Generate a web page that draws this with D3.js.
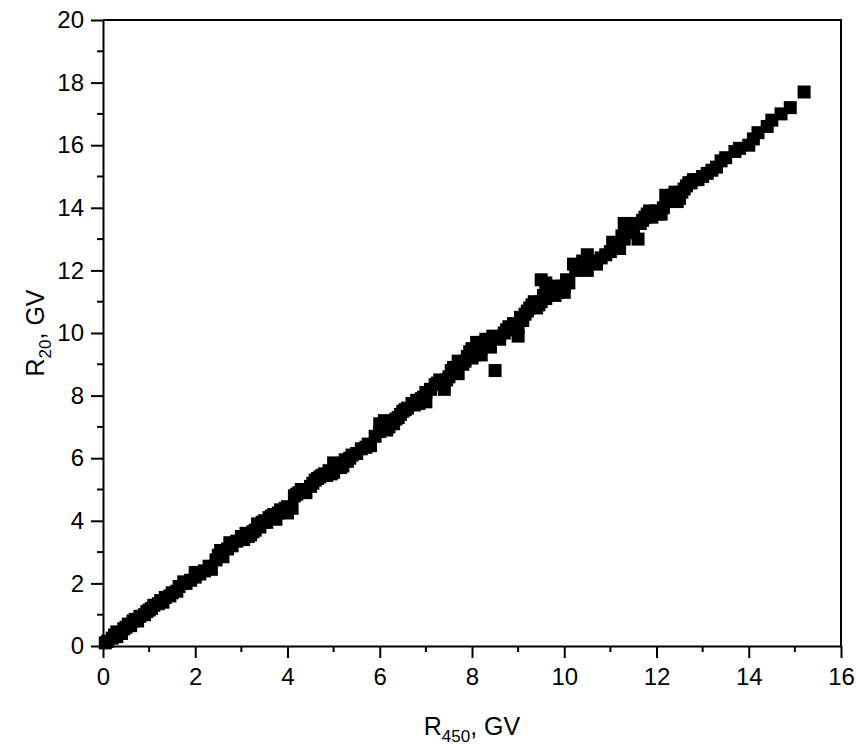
<!DOCTYPE html>
<html>
<head>
<meta charset="utf-8">
<script src="https://cdn.jsdelivr.net/npm/d3@7"></script>
<style>
  body { margin: 0; background: #fff; }
  text { font-family: "Liberation Sans", Arial, sans-serif; fill: #000; }
</style>
</head>
<body>
<div id="chart"></div>
<script>
// R450 (GV) values
const r450 = [
  0.05, 0.1, 0.2, 0.25, 0.3, 0.3, 0.4, 0.45, 0.5, 0.55, 0.6, 0.65, 0.7, 0.75, 0.8, 0.9, 0.95, 1.0,
  1.05, 1.1, 1.2, 1.25, 1.3, 1.35, 1.45, 1.5, 1.6, 1.65, 1.75, 1.8, 1.9, 2.0, 2.0, 2.1, 2.2, 2.3,
  2.35, 2.45, 2.5, 2.6, 2.55, 2.7, 2.75, 2.8, 2.9, 3.0, 3.05, 3.1, 3.2, 3.3, 3.35, 3.4, 3.5, 3.6,
  3.7, 3.75, 3.85, 3.9, 4.0, 4.0, 4.2, 4.3, 4.4, 4.5, 4.6, 4.7, 4.75, 4.85, 4.9, 5.0, 5.0, 5.1,
  5.2, 5.3, 5.4, 5.5, 5.7, 5.8, 6.0, 6.0, 6.05, 6.1, 6.15, 6.3, 6.4, 6.5, 6.6, 6.7, 6.8, 6.9,
  7.0, 7.0, 7.2, 7.3, 7.4, 7.5, 7.6, 7.7, 7.7, 7.8, 7.9, 8.0, 8.0, 8.1, 8.2, 8.2, 8.3, 8.4,
  8.5, 8.7, 8.8, 9.0, 9.1, 9.2, 9.3, 9.4, 9.5, 9.6, 9.5, 9.6, 9.8, 9.9, 10.0, 10.1, 10.2, 10.3,
  10.4, 10.5, 10.5, 10.6, 10.7, 10.8, 10.9, 11.0, 11.1, 11.2, 11.3, 11.3, 11.4, 11.5, 11.6, 11.7,
  11.8, 11.9, 12.0, 12.1, 12.2, 12.3, 12.4, 12.5, 12.6, 12.7, 12.8, 13.0, 13.1, 13.3, 13.4, 13.5,
  13.7, 13.8, 14.0, 14.1, 14.2, 14.4, 14.5, 14.7, 14.9, 15.2,
  3.15, 3.25, 3.45, 3.55, 3.65, 3.8, 3.95, 4.1, 4.15, 4.25, 4.35, 4.55, 4.65, 4.8, 4.95,
  5.15, 5.25, 5.35, 5.6, 5.75, 5.9, 6.2, 6.25, 6.35, 6.45, 6.55, 6.75, 6.85, 6.95,
  7.1, 7.25, 7.45, 7.55, 7.65, 7.85, 7.95, 8.05, 8.15, 8.25, 8.35, 8.45,
  8.6, 8.75, 8.9, 9.0, 9.05, 9.15, 9.25, 9.35, 9.45, 9.55, 9.7, 9.75, 9.85, 10.0, 10.05, 10.25,
  11.05, 11.25, 11.35, 11.45, 11.55, 11.65, 11.75, 11.85, 12.05, 12.15, 12.25, 12.35, 12.45,
  12.55, 12.65, 12.75, 12.9, 13.2
];
// R20 (GV) values, same order
const r20 = [
  0.1, 0.15, 0.25, 0.35, 0.3, 0.45, 0.4, 0.55, 0.6, 0.7, 0.65, 0.8, 0.85, 0.8, 0.95, 1.0, 1.1, 1.15,
  1.2, 1.3, 1.35, 1.45, 1.4, 1.55, 1.6, 1.7, 1.75, 1.9, 2.05, 2.0, 2.1, 2.2, 2.35, 2.3, 2.4, 2.55,
  2.45, 2.75, 2.9, 2.85, 3.05, 3.1, 3.3, 3.2, 3.35, 3.5, 3.4, 3.6, 3.55, 3.7, 3.9, 3.8, 4.0, 4.1,
  4.2, 4.05, 4.35, 4.3, 4.45, 4.25, 4.85, 5.0, 4.9, 5.1, 5.3, 5.4, 5.45, 5.45, 5.6, 5.85, 5.55, 5.8,
  5.75, 5.9, 6.1, 6.15, 6.35, 6.4, 6.85, 7.1, 6.95, 7.2, 6.9, 7.1, 7.3, 7.5, 7.6, 7.75, 7.85, 7.9,
  7.8, 8.1, 8.35, 8.5, 8.2, 8.6, 8.9, 9.1, 8.7, 9.0, 9.25, 9.2, 9.5, 9.7, 9.6, 9.3, 9.8, 9.55,
  8.8, 10.0, 10.2, 9.9, 10.4, 10.7, 10.9, 10.8, 11.0, 11.1, 11.7, 11.6, 11.2, 11.4, 11.3, 11.6, 12.2, 12.1,
  12.3, 12.5, 12.0, 12.3, 12.2, 12.4, 12.5, 12.6, 12.8, 12.7, 13.0, 13.5, 13.2, 13.3, 13.0, 13.6,
  13.8, 13.7, 13.9, 13.8, 14.4, 14.2, 14.5, 14.3, 14.6, 14.8, 14.9, 15.0, 15.1, 15.3, 15.5, 15.6,
  15.8, 15.9, 16.0, 16.2, 16.4, 16.6, 16.8, 17.0, 17.2, 17.7,
  3.5, 3.65, 3.95, 3.95, 4.15, 4.25, 4.4, 4.4, 4.8, 4.9, 5.0, 5.2, 5.35, 5.5, 5.5,
  5.7, 5.95, 6.0, 6.3, 6.45, 6.7, 7.0, 7.15, 7.25, 7.4, 7.55, 7.7, 7.75, 7.95,
  8.2, 8.4, 8.5, 8.8, 8.9, 9.1, 9.4, 9.3, 9.5, 9.7, 9.6, 9.9,
  9.8, 10.1, 10.3, 10.2, 10.5, 10.6, 10.8, 11.0, 10.9, 11.2, 11.3, 11.5, 11.3, 11.5, 11.7, 12.0,
  12.9, 13.1, 13.4, 13.4, 13.5, 13.5, 13.7, 13.9, 13.8, 14.0, 14.3, 14.4, 14.2,
  14.5, 14.7, 14.8, 14.9, 15.2
];
const xTicks = [0, 2, 4, 6, 8, 10, 12, 14, 16];
const yTicks = [0, 2, 4, 6, 8, 10, 12, 14, 16, 18, 20];

const width = 856, height = 753;
const margin = { top: 20, right: 15, bottom: 107, left: 103 };
const innerW = width - margin.left - margin.right;
const innerH = height - margin.top - margin.bottom;

const svg = d3.select("#chart").append("svg")
  .attr("width", width)
  .attr("height", height);

const g = svg.append("g")
  .attr("transform", `translate(${margin.left},${margin.top})`);

const x = d3.scaleLinear().domain([0, 16]).range([0, innerW]);
const y = d3.scaleLinear().domain([0, 20]).range([innerH, 0]);

const points = r450.map((v, i) => ({ x: v, y: r20[i] }));

// data squares
const sq = 13;
g.selectAll(".pt")
  .data(points)
  .enter()
  .append("rect")
  .attr("class", "pt")
  .attr("x", d => x(d.x) - sq / 2)
  .attr("y", d => y(d.y) - sq / 2)
  .attr("width", sq)
  .attr("height", sq)
  .attr("fill", "#000");

// frame (top and right)
g.append("path")
  .attr("d", `M0,0H${innerW}V${innerH}`)
  .attr("fill", "none")
  .attr("stroke", "#000")
  .attr("stroke-width", 2);

// minor ticks
const minorX = d3.range(1, 16, 2);
const minorY = d3.range(1, 20, 2);
g.selectAll(".mx").data(minorX).enter().append("line")
  .attr("x1", d => x(d)).attr("x2", d => x(d))
  .attr("y1", innerH).attr("y2", innerH + 6)
  .attr("stroke", "#000").attr("stroke-width", 2);
g.selectAll(".my").data(minorY).enter().append("line")
  .attr("x1", -6).attr("x2", 0)
  .attr("y1", d => y(d)).attr("y2", d => y(d))
  .attr("stroke", "#000").attr("stroke-width", 2);

// axes
const xAxis = g.append("g")
  .attr("transform", `translate(0,${innerH})`)
  .call(d3.axisBottom(x).tickValues(xTicks).tickSize(12).tickPadding(10).tickSizeOuter(0));
const yAxis = g.append("g")
  .call(d3.axisLeft(y).tickValues(yTicks).tickSize(12).tickPadding(7).tickSizeOuter(0));

[xAxis, yAxis].forEach(a => {
  a.select(".domain").attr("stroke-width", 2);
  a.selectAll(".tick line").attr("stroke-width", 2);
  a.selectAll(".tick text")
    .style("font-family", '"Liberation Sans", Arial, sans-serif')
    .style("font-size", "24px");
});

// axis titles
const xt = svg.append("text")
  .attr("x", margin.left + innerW / 2)
  .attr("y", 735)
  .attr("text-anchor", "middle")
  .style("font-size", "25px");
xt.append("tspan").text("R");
xt.append("tspan").attr("dy", 7).style("font-size", "17px").text("450");
xt.append("tspan").attr("dy", -7).text(", GV");

const yt = svg.append("text")
  .attr("transform", `translate(44,${margin.top + innerH / 2}) rotate(-90)`)
  .attr("text-anchor", "middle")
  .style("font-size", "25px");
yt.append("tspan").text("R");
yt.append("tspan").attr("dy", 7).style("font-size", "17px").text("20");
yt.append("tspan").attr("dy", -7).text(", GV");
</script>
</body>
</html>
